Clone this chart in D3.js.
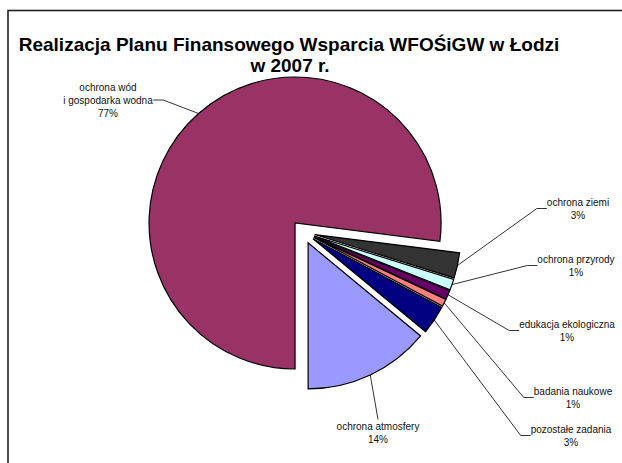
<!DOCTYPE html>
<html>
<head>
<meta charset="utf-8">
<script src="https://cdn.jsdelivr.net/npm/d3@7/dist/d3.min.js"></script>
<style>
  body { margin: 0; background: #fff; }
  svg { display: block; }
  text { font-family: 'Liberation Sans', Arial, sans-serif; }
</style>
</head>
<body>
<svg id="chart" width="622" height="463"></svg>
<script>
// Data (shares in %, clockwise from 6 o'clock)
const categories = [
  ['ochrona wód', 'i gospodarka wodna'],
  ['ochrona ziemi'],
  ['ochrona przyrody'],
  ['edukacja ekologiczna'],
  ['badania naukowe'],
  ['pozostałe zadania'],
  ['ochrona atmosfery']
];
const shares = [77.0, 2.8, 1.2, 1.0, 0.8, 3.2, 14.0];
const pctLabels = ['77%', '3%', '1%', '1%', '1%', '3%', '14%'];

// Styles / layout
const colors = ['#993366', '#333333', '#CCFFFF', '#660066', '#FF8080', '#000080', '#9999FF'];
// label centre x, first line centre y, where the leader attaches
const labelLayout = [
  { x: 108, y: 87, side: 'right' },
  { x: 578, y: 202, side: 'left' },
  { x: 576, y: 259, side: 'left' },
  { x: 567, y: 324, side: 'left' },
  { x: 573, y: 391, side: 'left' },
  { x: 571, y: 429, side: 'left' },
  { x: 378, y: 426, side: 'top' }
];

const width = 622, height = 463;
const cx = 303, cy = 232, radius = 146, explode = 12;
const lineH = 13;

const svg = d3.select('#chart');

// Chart area border (runs off the right and bottom of the picture)
svg.append('rect')
  .attr('x', 8).attr('y', 10.5)
  .attr('width', 700).attr('height', 500)
  .attr('fill', '#fff')
  .attr('stroke', '#222')
  .attr('stroke-width', 1.6);

// Title
const title = svg.append('g').attr('class', 'title')
  .style('font-weight', 'bold')
  .style('font-size', '19px')
  .attr('fill', '#000');
title.append('text').attr('x', 289).attr('y', 51)
  .attr('text-anchor', 'middle')
  .text('Realizacja Planu Finansowego Wsparcia WFOŚiGW w Łodzi');
title.append('text').attr('x', 290).attr('y', 72)
  .attr('text-anchor', 'middle')
  .text('w 2007 r.');

// Pie layout: start at 6 o'clock, clockwise
const pie = d3.pie()
  .sort(null)
  .value(d => d)
  .startAngle(Math.PI)
  .endAngle(3 * Math.PI);

const arc = d3.arc().innerRadius(0).outerRadius(radius);
const arcs = pie(shares);

const offset = d => {
  const mid = (d.startAngle + d.endAngle) / 2;
  return [Math.sin(mid) * explode, -Math.cos(mid) * explode];
};

const g = svg.append('g').attr('transform', `translate(${cx},${cy})`);

g.selectAll('path.slice')
  .data(arcs)
  .join('path')
  .attr('class', 'slice')
  .attr('transform', d => `translate(${offset(d)})`)
  .attr('d', arc)
  .attr('fill', (d, i) => colors[i])
  .attr('stroke', '#000')
  .attr('stroke-width', 1.2)
  .attr('stroke-linejoin', 'miter');

// Labels and leader lines
const labels = svg.append('g').attr('class', 'labels')
  .style('font-size', '10px')
  .attr('fill', '#111');

arcs.forEach((d, i) => {
  const lay = labelLayout[i];
  const lines = categories[i].concat([pctLabels[i]]);
  const txt = labels.append('text')
    .attr('text-anchor', 'middle');
  lines.forEach((l, k) => {
    txt.append('tspan')
      .attr('x', lay.x)
      .attr('y', lay.y + k * lineH)
      .attr('dy', '0.35em')
      .text(l);
  });

  const bb = txt.node().getBBox();
  const mid = (d.startAngle + d.endAngle) / 2;
  const [ox, oy] = offset(d);
  const ax = cx + ox + Math.sin(mid) * radius;
  const ay = cy + oy - Math.cos(mid) * radius;

  let pts;
  if (lay.side === 'left') {
    const yMid = lay.y + (lines.length - 1) * lineH / 2;
    const x0 = bb.x;
    pts = [[x0, yMid], [x0 - 10, yMid], [ax, ay]];
  } else if (lay.side === 'right') {
    const yMid = lay.y + lineH;
    const x0 = bb.x + bb.width;
    pts = [[x0, yMid], [x0 + 10, yMid], [ax, ay]];
  } else {
    pts = [[lay.x, bb.y - 1], [ax, ay]];
  }
  labels.append('path')
    .attr('d', d3.line()(pts))
    .attr('fill', 'none')
    .attr('stroke', '#000')
    .attr('stroke-width', 0.8);
});
</script>
</body>
</html>
